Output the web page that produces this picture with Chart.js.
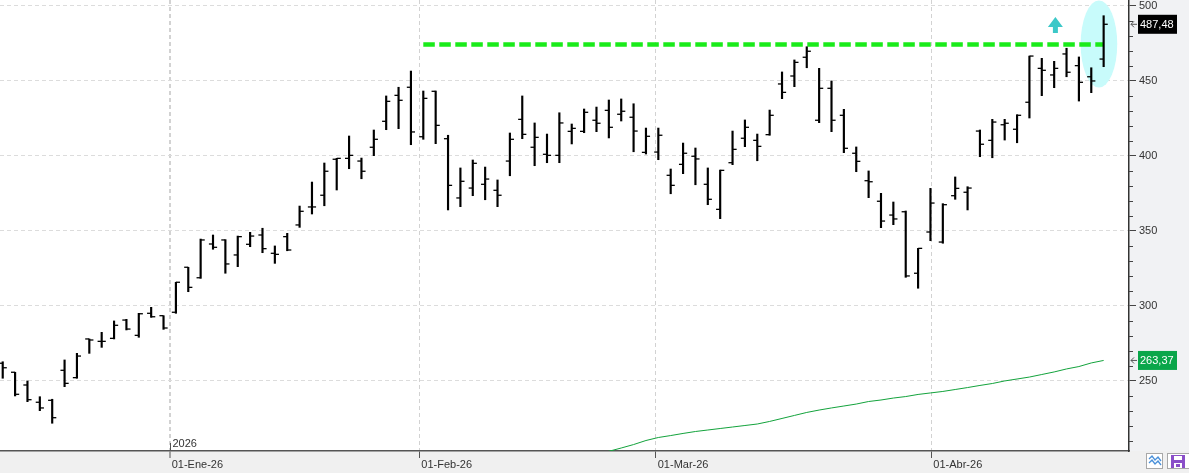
<!DOCTYPE html>
<html>
<head>
<meta charset="utf-8">
<script src="https://cdn.jsdelivr.net/npm/chart.js@4.4.1/dist/chart.umd.min.js"></script>
<style>
  html, body { margin: 0; padding: 0; background: #fff; }
  #wrap { width: 1189px; height: 473px; }
</style>
</head>
<body>
<div id="wrap"><canvas id="chart" width="1189" height="473"></canvas></div>
<script>
// daily OHLC bars, oldest first (last one is the current session)
const opens = [261.5, 255.5, 247.0, 235.5, 236.8, 256.8, 251.9, 277.7, 276.1, 278.1,
  290.3, 280.1, 294.8, 293.2, 295.5, 325.5, 318.5, 341.0, 343.7, 333.7,
  340.8, 347.0, 334.8, 345.9, 353.7, 365.7, 373.5, 397.5, 398.1, 396.3,
  405.5, 422.8, 440.1, 445.5, 412.5, 442.8, 411.2, 371.7, 378.3, 380.8,
  376.8, 396.3, 424.1, 405.5, 400.8, 400.1, 416.1, 416.1, 423.5, 430.1,
  427.5, 425.5, 402.1, 402.3, 386.8, 394.1, 399.5, 380.8, 364.1, 395.2,
  411.5, 410.1, 413.9, 447.7, 453.0, 465.5, 423.5, 444.8, 426.8, 401.5,
  383.2, 369.5, 360.3, 362.5, 321.5, 349.0, 342.3, 373.2, 375.5, 416.3,
  410.1, 420.5, 417.5, 435.5, 458.1, 453.7, 467.7, 459.9, 452.5, 464.3];
const highs = [262.5, 255.5, 249.7, 239.2, 237.5, 263.7, 268.1, 277.7, 282.1, 289.7,
  290.8, 294.8, 298.8, 293.2, 315.5, 325.5, 344.3, 347.0, 343.9, 346.3,
  348.8, 351.5, 339.7, 348.1, 366.3, 382.3, 395.0, 398.1, 413.0, 398.3,
  417.0, 439.7, 445.5, 456.3, 443.0, 443.0, 413.5, 391.7, 397.0, 392.3,
  383.7, 415.0, 439.7, 421.7, 414.3, 428.5, 421.0, 431.0, 432.3, 437.0,
  437.7, 434.5, 418.3, 418.3, 391.0, 408.3, 405.0, 391.7, 390.3, 416.3,
  423.7, 414.3, 430.3, 455.7, 463.7, 472.5, 458.1, 449.7, 430.8, 405.7,
  389.7, 374.8, 369.0, 363.0, 338.1, 378.1, 367.9, 385.7, 379.2, 417.0,
  424.1, 424.1, 427.2, 466.3, 464.8, 462.8, 471.5, 465.7, 458.5, 493.2];
const lows = [251.5, 239.7, 235.9, 229.9, 221.5, 245.9, 251.5, 268.1, 272.1, 277.7,
  283.7, 278.8, 292.1, 284.1, 294.8, 309.2, 318.1, 337.5, 321.5, 325.9,
  339.2, 335.2, 328.1, 336.5, 352.1, 361.0, 366.5, 377.0, 391.2, 384.5,
  399.9, 417.2, 417.9, 407.2, 410.8, 407.9, 363.7, 365.9, 373.2, 370.5,
  365.9, 386.5, 411.2, 393.2, 395.2, 395.2, 407.7, 415.2, 415.9, 411.7,
  423.0, 402.5, 401.0, 397.2, 374.5, 387.9, 380.5, 367.2, 357.9, 393.9,
  405.9, 396.5, 413.5, 437.9, 445.9, 458.5, 421.9, 415.9, 401.9, 389.2,
  371.9, 351.9, 353.9, 318.8, 311.5, 343.2, 341.5, 370.8, 363.7, 399.2,
  398.5, 410.3, 408.5, 425.0, 439.9, 445.2, 452.5, 436.3, 441.9, 459.2];
const closes = [258.5, 240.8, 237.2, 231.7, 225.2, 248.1, 266.3, 277.0, 276.1, 286.8,
  284.3, 294.5, 292.5, 285.0, 315.5, 312.1, 343.7, 338.8, 327.7, 345.9,
  346.3, 337.9, 334.1, 337.0, 362.8, 365.7, 389.5, 398.1, 400.1, 389.5,
  410.8, 436.1, 436.8, 415.7, 438.1, 420.1, 380.1, 382.8, 394.8, 384.3,
  373.5, 410.8, 414.1, 412.1, 400.1, 421.7, 418.1, 428.8, 421.5, 418.8,
  429.5, 416.3, 412.8, 413.5, 380.1, 401.5, 397.7, 370.8, 390.1, 404.1,
  418.8, 406.1, 426.8, 442.1, 462.1, 469.5, 444.8, 423.5, 404.8, 396.1,
  382.5, 356.3, 357.7, 319.7, 338.1, 368.3, 367.2, 378.1, 378.3, 407.5,
  422.3, 421.5, 426.8, 466.3, 456.8, 458.1, 455.5, 448.8, 449.7, 487.48];
// long moving average, only the stretch that rises into view
const movingAvg = Array(48).fill(null).concat([
  201.0, 202.8, 205.0, 207.3, 210.0, 212.0, 213.3, 214.7, 216.0, 217.0,
  218.0, 219.0, 220.0, 221.0, 222.7, 224.7, 226.7, 228.7, 230.3, 231.7,
  233.0, 234.3, 236.0, 237.0, 238.3, 239.3, 240.7, 241.7, 242.7, 244.0,
  245.3, 246.7, 248.0, 249.7, 251.0, 252.3, 254.0, 255.7, 257.7, 259.3,
  261.7, 263.37]);

// month boundaries, in bar units
const monthTicks = [13.5, 33.68, 52.79, 75.07];
const monthLabels = ['01-Ene-26', '01-Feb-26', '01-Mar-26', '01-Abr-26'];
const yearLabel = '2026';

// resistance drawn by hand on the chart
const resistanceLevel = 474;
const resistanceFrom = 34;
const resistanceTo = 89;

// highlight marks
const ellipseMark = { bar: 88.62, value: 474.3 };
const arrowMark = { bar: 85.1, value: 492.3 };

const FONT = "'Liberation Sans', Arial, sans-serif";
Chart.defaults.font.family = FONT;
Chart.defaults.font.size = 11;
Chart.defaults.color = '#333';

const idx = opens.map((_, i) => i);
const tickOff = 0.17;
const hlData = idx.map(i => ({ x: i, y: [lows[i], highs[i]] }));
const openData = idx.map(i => ({ x: i - tickOff, y: opens[i] }));
const closeData = idx.map(i => ({ x: i + tickOff, y: closes[i] }));
const maData = idx.map(i => ({ x: i, y: movingAvg[i] }));
const resData = [{ x: resistanceFrom, y: resistanceLevel }, { x: resistanceTo, y: resistanceLevel }];

function fmt(v) {
    return v.toFixed(2).replace('.', ',');
}

function priceTag(ctx, y, text, bg, left) {
    // little arrow pointing at the axis
    ctx.strokeStyle = '#555';
    ctx.lineWidth = 1;
    ctx.beginPath();
    ctx.moveTo(left + 2, y);
    ctx.lineTo(left + 8, y);
    ctx.moveTo(left + 5, y - 3);
    ctx.lineTo(left + 2, y);
    ctx.lineTo(left + 5, y + 3);
    ctx.stroke();
    ctx.fillStyle = bg;
    ctx.fillRect(left + 9, y - 9.5, 39, 19);
    ctx.fillStyle = '#fff';
    ctx.font = '11px ' + FONT;
    ctx.textAlign = 'left';
    ctx.textBaseline = 'middle';
    ctx.fillText(text, left + 11, y + 0.5);
}

const decor = {
    id: 'decor',
    beforeDraw(chart) {
        const { ctx, chartArea: a, width, height } = chart;
        ctx.save();
        ctx.fillStyle = '#fff';
        ctx.fillRect(0, 0, width, height);
        ctx.fillStyle = '#f1f2f4';
        ctx.fillRect(a.right, 0, width - a.right, height);
        ctx.fillStyle = '#f0f0f0';
        ctx.fillRect(0, a.bottom, width, height - a.bottom);
        ctx.restore();
    },
    beforeDatasetsDraw(chart) {
        const { ctx, chartArea: a, scales } = chart;
        ctx.save();
        ctx.beginPath();
        ctx.rect(a.left, a.top, a.right - a.left, a.bottom - a.top);
        ctx.clip();
        const cx = scales.x.getPixelForValue(ellipseMark.bar);
        const cy = scales.y.getPixelForValue(ellipseMark.value);
        ctx.fillStyle = '#c8fbfb';
        ctx.beginPath();
        ctx.ellipse(cx, cy, 18.3, 43.5, 0, 0, Math.PI * 2);
        ctx.fill();
        ctx.restore();
    },
    afterDraw(chart) {
        const { ctx, chartArea: a, scales } = chart;
        const xs = scales.x, ys = scales.y;
        ctx.save();

        // arrow
        const ax = xs.getPixelForValue(arrowMark.bar);
        const ay = ys.getPixelForValue(arrowMark.value);
        ctx.fillStyle = '#3cc8c8';
        ctx.beginPath();
        ctx.moveTo(ax, ay);
        ctx.lineTo(ax + 7.5, ay + 10);
        ctx.lineTo(ax + 2.5, ay + 10);
        ctx.lineTo(ax + 2.5, ay + 16);
        ctx.lineTo(ax - 2.5, ay + 16);
        ctx.lineTo(ax - 2.5, ay + 10);
        ctx.lineTo(ax - 7.5, ay + 10);
        ctx.closePath();
        ctx.fill();

        // year marker
        const yx = Math.round(xs.getPixelForValue(monthTicks[0])) + 0.5;
        ctx.strokeStyle = '#555';
        ctx.lineWidth = 1;
        ctx.beginPath();
        ctx.moveTo(yx, a.bottom - 8);
        ctx.lineTo(yx, a.bottom);
        ctx.stroke();
        ctx.fillStyle = '#333';
        ctx.font = '11px ' + FONT;
        ctx.textAlign = 'left';
        ctx.textBaseline = 'alphabetic';
        ctx.fillText(yearLabel, yx + 2, a.bottom - 4);

        // minor ticks on the price axis
        ctx.strokeStyle = '#444';
        ys.ticks.forEach(t => {
            if (t.value % 50 === 0) return;
            const py = Math.round(ys.getPixelForValue(t.value)) + 0.5;
            ctx.beginPath();
            ctx.moveTo(ys.left, py);
            ctx.lineTo(ys.left + 4, py);
            ctx.stroke();
        });

        // last values
        priceTag(ctx, ys.getPixelForValue(closes[closes.length - 1]), fmt(closes[closes.length - 1]), '#000', ys.left);
        priceTag(ctx, ys.getPixelForValue(movingAvg[movingAvg.length - 1]), fmt(movingAvg[movingAvg.length - 1]), '#0aa64a', ys.left);

        // two little buttons bottom right
        const by = a.bottom + 2;
        ctx.fillStyle = '#fff';
        ctx.strokeStyle = '#a8a8a8';
        ctx.fillRect(1146, by, 17, 16);
        ctx.strokeRect(1146.5, by + 0.5, 16, 15);
        ctx.strokeStyle = '#4a90d9';
        ctx.lineWidth = 1.3;
        for (let k = 0; k < 2; k++) {
            ctx.beginPath();
            ctx.moveTo(1149, by + 6 + k * 4);
            ctx.lineTo(1152, by + 3 + k * 4);
            ctx.lineTo(1155, by + 7 + k * 4);
            ctx.lineTo(1158, by + 4 + k * 4);
            ctx.lineTo(1161, by + 8 + k * 4);
            ctx.stroke();
        }
        ctx.fillStyle = '#fff';
        ctx.strokeStyle = '#a8a8a8';
        ctx.lineWidth = 1;
        ctx.fillRect(1167, by, 22, 16);
        ctx.strokeRect(1167.5, by + 0.5, 22, 15);
        ctx.fillStyle = '#8a4fc8';
        ctx.fillRect(1171, by + 2, 14, 13);
        ctx.fillStyle = '#fff';
        ctx.fillRect(1174, by + 3, 8, 4);
        ctx.fillRect(1174, by + 10, 8, 5);
        ctx.fillStyle = '#8a4fc8';
        ctx.fillRect(1176, by + 11, 4, 3);
        ctx.restore();
    }
};

new Chart(document.getElementById('chart'), {
    type: 'bar',
    data: {
        datasets: [{
            type: 'scatter',
            data: openData,
            pointStyle: 'line',
            pointRadius: 2,
            pointBorderColor: '#000',
            pointBorderWidth: 1.3,
            order: 0
        }, {
            type: 'scatter',
            data: closeData,
            pointStyle: 'line',
            pointRadius: 2,
            pointBorderColor: '#000',
            pointBorderWidth: 1.3,
            order: 0
        }, {
            type: 'bar',
            data: hlData,
            backgroundColor: '#000',
            barThickness: 1.5,
            borderWidth: 0,
            order: 1
        }, {
            type: 'line',
            data: resData,
            borderColor: '#1aeb1a',
            borderWidth: 4.5,
            borderDash: [11.5, 4.5],
            pointRadius: 0,
            order: 2
        }, {
            type: 'line',
            data: maData,
            borderColor: '#13a33c',
            borderWidth: 1,
            pointRadius: 0,
            tension: 0,
            order: 3
        }]
    },
    options: {
        responsive: false,
        devicePixelRatio: 1,
        animation: false,
        layout: { padding: 0, autoPadding: false },
        plugins: {
            legend: { display: false },
            tooltip: { enabled: false }
        },
        scales: {
            x: {
                type: 'linear',
                min: -0.22,
                max: 91.05,
                offset: false,
                afterBuildTicks: s => { s.ticks = monthTicks.map(v => ({ value: v })); },
                afterFit: s => { s.height = 22; s.paddingLeft = 0; s.paddingRight = 0; },
                grid: {
                    offset: false,
                    color: '#d2d2d2',
                    lineWidth: c => (c.index === 0 ? 2 : 1),
                    tickLength: 7,
                    tickColor: '#555',
                    tickWidth: 1
                },
                border: { display: true, color: '#555', width: 1.5, dash: [4, 3] },
                ticks: {
                    autoSkip: false,
                    maxRotation: 0,
                    align: 'start',
                    labelOffset: 2,
                    padding: 0,
                    color: '#333',
                    callback: (v, i) => monthLabels[i]
                }
            },
            y: {
                type: 'linear',
                position: 'right',
                min: 203,
                max: 503.67,
                beginAtZero: false,
                afterFit: s => { s.width = 60; s.paddingTop = 0; s.paddingBottom = 0; },
                grid: {
                    color: c => (c.tick && c.tick.value % 50 === 0 ? '#dcdcdc' : 'rgba(0,0,0,0)'),
                    tickColor: c => (c.tick && c.tick.value % 50 === 0 ? '#444' : 'rgba(0,0,0,0)'),
                    tickLength: 7
                },
                border: { display: true, color: '#333', width: 1.5, dash: [4, 3] },
                ticks: {
                    stepSize: 10,
                    includeBounds: false,
                    autoSkip: false,
                    padding: 3,
                    color: '#333',
                    callback: v => (v % 50 === 0 ? String(v) : '')
                }
            }
        }
    },
    plugins: [decor]
});
</script>
</body>
</html>
